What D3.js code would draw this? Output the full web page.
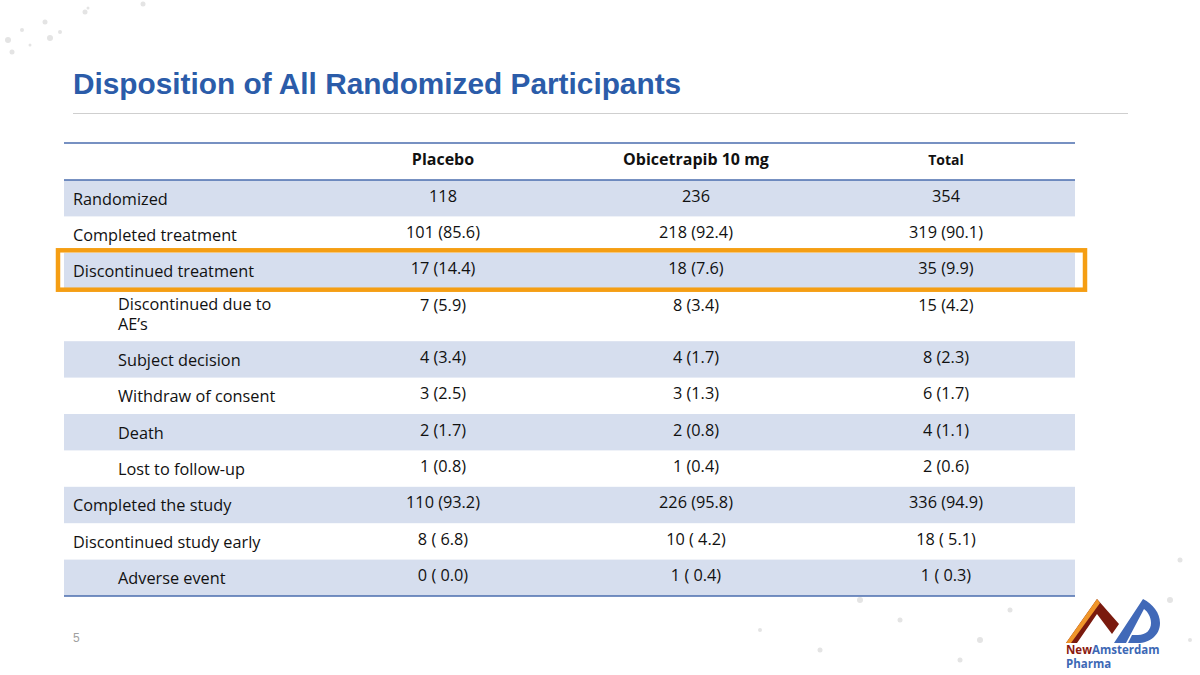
<!DOCTYPE html>
<html>
<head>
<meta charset="utf-8">
<script src="https://cdn.jsdelivr.net/npm/d3@7"></script>
<style>
html,body{margin:0;padding:0;background:#fff;}
svg{display:block;}
</style>
</head>
<body>
<svg id="chart" width="1200" height="675"></svg>
<script>
// ---- data ----
const columns = ["Placebo", "Obicetrapib 10 mg", "Total"];
const rowLabels = [
  "Randomized", "Completed treatment", "Discontinued treatment",
  "Discontinued due to|AE’s", "Subject decision", "Withdraw of consent",
  "Death", "Lost to follow-up", "Completed the study",
  "Discontinued study early", "Adverse event"
];
const rowIndent = [0,0,0,1,1,1,1,1,0,0,1];
const placebo = ["118","101 (85.6)","17 (14.4)","7 (5.9)","4 (3.4)","3 (2.5)","2 (1.7)","1 (0.8)","110 (93.2)","8 ( 6.8)","0 ( 0.0)"];
const obicetrapib = ["236","218 (92.4)","18 (7.6)","8 (3.4)","4 (1.7)","3 (1.3)","2 (0.8)","1 (0.4)","226 (95.8)","10 ( 4.2)","1 ( 0.4)"];
const total = ["354","319 (90.1)","35 (9.9)","15 (4.2)","8 (2.3)","6 (1.7)","4 (1.1)","2 (0.6)","336 (94.9)","18 ( 5.1)","1 ( 0.3)"];
const highlightRow = "Discontinued treatment";
const pageNumber = "5";

const svg = d3.select("#chart");
const font = "'Open Sans', 'Noto Sans', sans-serif";

// faint decorative dots (background texture)
const deco = [[8,40,3],[22,30,2],[45,22,2.5],[60,32,2],[85,12,2.5],[88,8,1.5],[50,38,3],[12,52,2.5],[30,45,1.5],[143,4,2.5],
  [860,600,3],[900,620,2.5],[940,585,2],[980,640,3],[1010,610,2.5],[1030,570,2],[1180,560,2.5],[1170,600,3],[1190,640,2],[820,650,2.5],[760,630,2],[960,660,2.5]];
svg.append("g").selectAll("circle").data(deco).join("circle")
  .attr("cx", d => d[0]).attr("cy", d => d[1]).attr("r", d => d[2])
  .attr("fill", "#E4E4E4");

// title
svg.append("text").attr("x", 73).attr("y", 94)
  .attr("font-family", "'Liberation Sans', Arial, sans-serif")
  .attr("font-weight", "bold").attr("font-size", 29.8)
  .attr("fill", "#2B5CA9")
  .text("Disposition of All Randomized Participants");
svg.append("line").attr("x1", 73).attr("x2", 1128).attr("y1", 113.5).attr("y2", 113.5)
  .attr("stroke", "#CFCFCF").attr("stroke-width", 1);

// layout
const tableLeft = 64, tableRight = 1075;
const headerTop = 143, headerH = 37;
const baseH = 36.4, extraLine = 15.6;
const colX = d3.scaleOrdinal().domain(columns).range([443, 696, 946]);

const rows = rowLabels.map((l, i) => ({
  lines: l.split("|"), indent: rowIndent[i],
  vals: [placebo[i], obicetrapib[i], total[i]], i
}));
let yAcc = headerTop + headerH;
rows.forEach(r => { r.y = yAcc; r.h = baseH + extraLine * (r.lines.length - 1); yAcc += r.h; });
const tableBottom = yAcc;

// shading
const g = svg.append("g");
g.selectAll("rect.row").data(rows.filter(r => r.i % 2 === 0)).join("rect")
  .attr("class", "row")
  .attr("x", tableLeft).attr("width", tableRight - tableLeft)
  .attr("y", d => d.y).attr("height", d => d.h)
  .attr("fill", "#D6DEEE");

// header
g.selectAll("text.hdr").data(columns).join("text")
  .attr("class", "hdr")
  .attr("x", d => colX(d)).attr("y", headerTop + 22)
  .attr("text-anchor", "middle")
  .attr("font-family", font).attr("font-weight", "bold")
  .attr("font-size", d => d === "Total" ? 14 : 16)
  .attr("fill", "#111").text(d => d);

// lines
[headerTop, headerTop + headerH, tableBottom].forEach(y => {
  g.append("line").attr("x1", tableLeft).attr("x2", tableRight)
    .attr("y1", y).attr("y2", y)
    .attr("stroke", "#4A6CAE").attr("stroke-width", 1.5);
});

// labels
rows.forEach(r => {
  const t = g.append("text")
    .attr("font-family", font).attr("font-size", 16.3).attr("fill", "#111");
  r.lines.forEach((ln, k) => {
    t.append("tspan").attr("x", r.indent ? 118 : 73)
      .attr("y", r.y + (r.lines.length > 1 ? 21 : 24.5) + k * 20)
      .text(ln);
  });
  r.vals.forEach((v, j) => {
    g.append("text").attr("x", colX(columns[j])).attr("y", r.y + 21.5)
      .attr("text-anchor", "middle")
      .attr("font-family", font).attr("font-size", 16.3).attr("fill", "#111")
      .text(v);
  });
});

// highlight box
const hr = rows.find(r => r.lines[0] === highlightRow);
svg.append("rect")
  .attr("x", tableLeft - 6).attr("y", hr.y - 2.5)
  .attr("width", tableRight - tableLeft + 16).attr("height", hr.h + 3)
  .attr("fill", "none").attr("stroke", "#F59E13").attr("stroke-width", 4.5);

// page number
svg.append("text").attr("x", 73).attr("y", 642)
  .attr("font-family", "'Liberation Sans', Arial, sans-serif")
  .attr("font-size", 12).attr("fill", "#A0A0A0").text(pageNumber);

// logo
const logo = svg.append("g");
logo.append("path")
  .attr("d", "M1066,643 L1097,599 L1119,624 L1112,634 L1097,614 L1077,643 Z")
  .attr("fill", "#7A1A0E");
logo.append("path")
  .attr("d", "M1066,643 L1097,599 L1100,603 L1071,643 Z")
  .attr("fill", "#F0962A");
logo.append("path")
  .attr("d", "M1114,643 L1143,599 C1153,604 1160,613 1160,623 C1160,635 1150,643 1138,643 L1128,643 L1132,635 L1138,635 C1146,635 1151,630 1151,623 C1151,617 1148,612 1144,609 L1126,643 Z")
  .attr("fill", "#4169B8");
logo.append("text").attr("x", 1066).attr("y", 654)
  .attr("font-family", font).attr("font-weight", "bold").attr("font-size", 11.5)
  .html('<tspan fill="#8B1A10">New</tspan><tspan fill="#3D68B5">Amsterdam</tspan>');
logo.append("text").attr("x", 1066).attr("y", 668)
  .attr("font-family", font).attr("font-weight", "bold").attr("font-size", 11.5)
  .attr("fill", "#3D68B5").text("Pharma");
</script>
</body>
</html>
